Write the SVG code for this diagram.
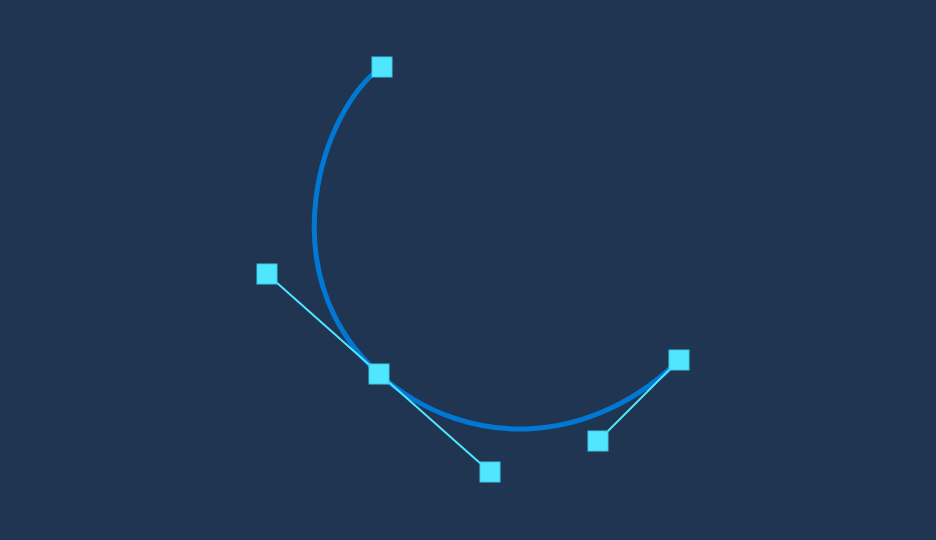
<svg xmlns="http://www.w3.org/2000/svg" width="936" height="540" viewBox="0 0 936 540">
<style>
.curve{fill:none;stroke:#0078d4;stroke-width:5}
.handle{stroke:#50e6ff;stroke-width:2}
.pt{fill:#50e6ff;stroke:#3cc8e6;stroke-width:1}
</style>
<rect width="936" height="540" fill="#203552"/>
<g id="connectors">
<path class="curve" d="M382,67 C322,108 267,274 379,374 C473,457 598,441 679,360"/>
<line class="handle" x1="267" y1="274" x2="490" y2="472"/>
<line class="handle" x1="679" y1="360" x2="598" y2="441"/>
</g>
<g id="anchor-start"><rect class="pt" x="372" y="57" width="20" height="20"/></g>
<g id="handle-in"><rect class="pt" x="257" y="264" width="20" height="20"/></g>
<g id="anchor-mid"><rect class="pt" x="369" y="364" width="20" height="20"/></g>
<g id="handle-out"><rect class="pt" x="480" y="462" width="20" height="20"/></g>
<g id="handle-end"><rect class="pt" x="588" y="431" width="20" height="20"/></g>
<g id="anchor-end"><rect class="pt" x="669" y="350" width="20" height="20"/></g>
</svg>
